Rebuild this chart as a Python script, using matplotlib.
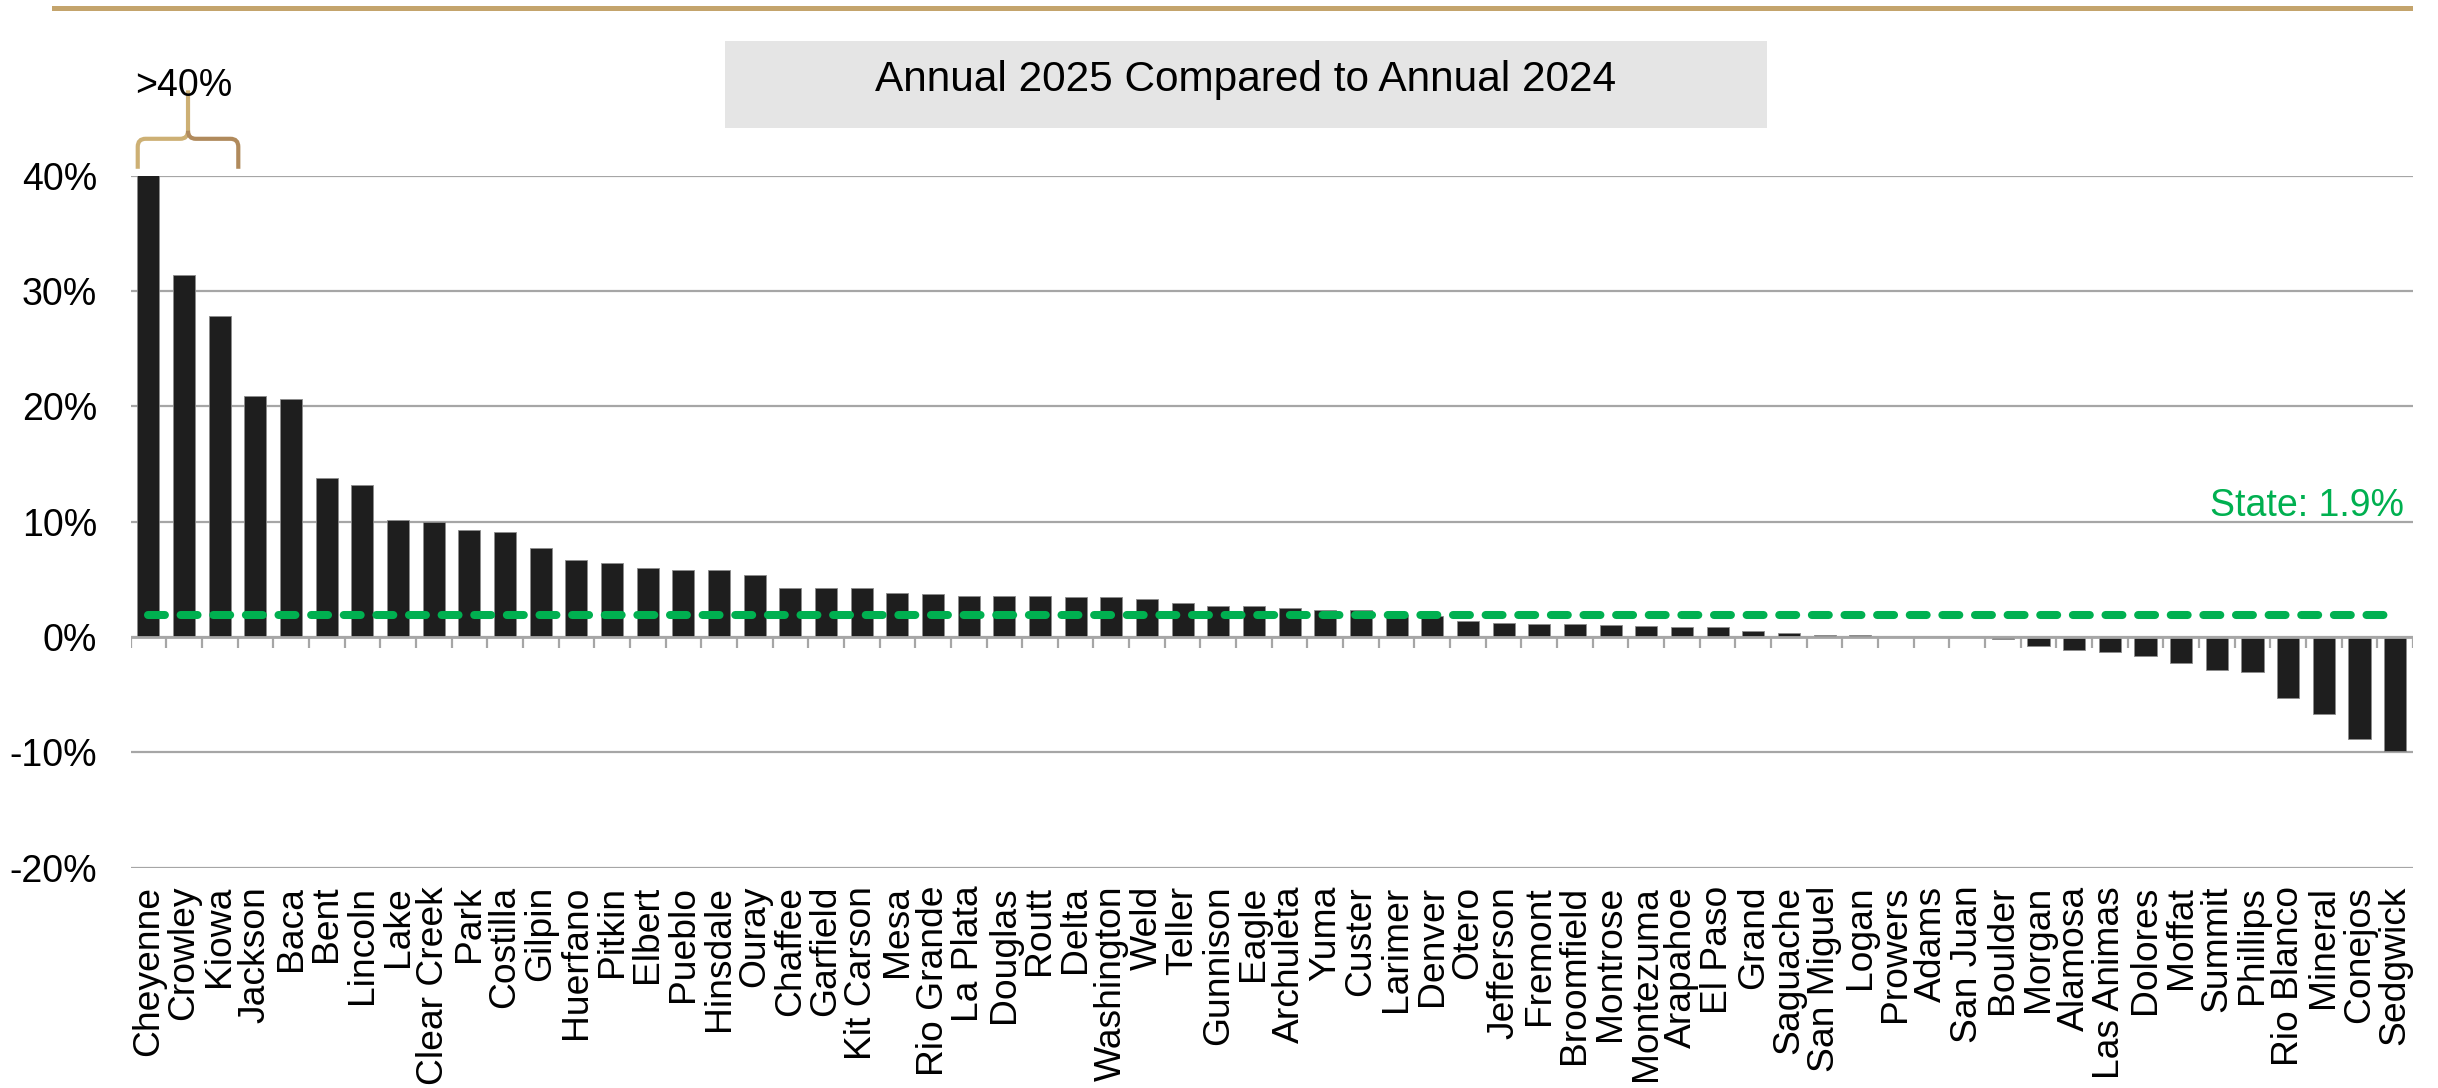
import matplotlib
matplotlib.use("Agg")
import matplotlib.pyplot as plt
from matplotlib.path import Path
from matplotlib.patches import PathPatch, Rectangle
from matplotlib.lines import Line2D
import numpy as np

plt.rcParams['font.family'] = ['Liberation Sans', 'DejaVu Sans']

counties = ["Cheyenne", "Crowley", "Kiowa", "Jackson", "Baca", "Bent", "Lincoln", "Lake",
            "Clear Creek", "Park", "Costilla", "Gilpin", "Huerfano", "Pitkin", "Elbert",
            "Pueblo", "Hinsdale", "Ouray", "Chaffee", "Garfield", "Kit Carson", "Mesa",
            "Rio Grande", "La Plata", "Douglas", "Routt", "Delta", "Washington", "Weld",
            "Teller", "Gunnison", "Eagle", "Archuleta", "Yuma", "Custer", "Larimer",
            "Denver", "Otero", "Jefferson", "Fremont", "Broomfield", "Montrose",
            "Montezuma", "Arapahoe", "El Paso", "Grand", "Saguache", "San Miguel",
            "Logan", "Prowers", "Adams", "San Juan", "Boulder", "Morgan", "Alamosa",
            "Las Animas", "Dolores", "Moffat", "Summit", "Phillips", "Rio Blanco",
            "Mineral", "Conejos", "Sedgwick"]

change_pct = [45.0, 31.4, 27.8, 20.9, 20.6, 13.8, 13.2, 10.15,
              10.0, 9.3, 9.1, 7.7, 6.7, 6.4, 6.0,
              5.85, 5.8, 5.35, 4.28, 4.27, 4.21, 3.78,
              3.72, 3.57, 3.57, 3.57, 3.49, 3.43, 3.31,
              2.97, 2.71, 2.65, 2.48, 2.37, 2.35, 1.9,
              1.8, 1.42, 1.22, 1.17, 1.13, 1.04,
              0.97, 0.84, 0.84, 0.52, 0.38, 0.2,
              0.14, 0.03, 0.01, -0.03, -0.17, -0.75, -1.1,
              -1.3, -1.62, -2.29, -2.9, -3.07, -5.25,
              -6.67, -8.87, -9.88]

state_pct = 1.9
y_ticks = [-20, -10, 0, 10, 20, 30, 40]
title = "Annual 2025 Compared to Annual 2024"

W, H = 2438, 1088
fig = plt.figure(figsize=(W / 100, H / 100), dpi=100)
ax = fig.add_axes([130.6 / W, 1 - 867.7 / H, (2413 - 130.6) / W, (867.7 - 175.7) / H])

x = np.arange(len(counties))
ax.bar(x, change_pct, width=0.62, color='#1e1e1e', edgecolor='#8c8c8c', linewidth=0.6, zorder=3)

ax.set_xlim(-0.5, len(counties) - 0.5)
ax.set_ylim(-20, 40)
ax.set_yticks(y_ticks)
ax.set_yticklabels([f"{t}%" for t in y_ticks])
ax.yaxis.grid(True, color='#a6a6a6', linewidth=1.6, zorder=0)
ax.set_axisbelow(True)
for s in ax.spines.values():
    s.set_visible(False)

ax.tick_params(axis='y', length=0, pad=24, labelsize=27)
ax.set_xticks(x)
ax.set_xticklabels(counties, rotation=90, fontsize=26.8)
ax.tick_params(axis='x', length=0, pad=13)

# zero axis line with boundary tick marks
ax.axhline(0, color='#a6a6a6', linewidth=2.0, zorder=4)
bounds = np.arange(len(counties) + 1) - 0.5
ax.vlines(bounds, -0.98, 0, color='#a6a6a6', linewidth=1.6, zorder=4)

# state average dashed line
ax.plot([x[0], x[-1]], [state_pct, state_pct], color='#00b050', linewidth=5.8,
        dashes=(2.1, 1.95), dash_capstyle='round', zorder=5)
ax.text(len(counties) - 0.75, 10.5, f"State: {state_pct}%", color='#00b050',
        fontsize=27, ha='right', va='baseline', zorder=6)

# bracket above first bars
x0, x1, xm = -0.3, 2.52, 1.11
ylow, yh, ytop = 40.6, 43.2, 47.4
rx, ry = 0.22, 0.7
left = Path([(x0, ylow), (x0, yh - ry), (x0, yh), (x0 + rx, yh), (xm - rx, yh),
             (xm, yh), (xm, yh + ry), (xm, ytop)],
            [Path.MOVETO, Path.LINETO, Path.CURVE3, Path.CURVE3, Path.LINETO,
             Path.CURVE3, Path.CURVE3, Path.LINETO])
right = Path([(x1, ylow), (x1, yh - ry), (x1, yh), (x1 - rx, yh), (xm + rx, yh),
              (xm, yh), (xm, yh + ry)],
             [Path.MOVETO, Path.LINETO, Path.CURVE3, Path.CURVE3, Path.LINETO,
              Path.CURVE3, Path.CURVE3])
ax.add_patch(PathPatch(left, facecolor='none', edgecolor='#cdb074', linewidth=3.0,
                       clip_on=False, zorder=6, capstyle='butt'))
ax.add_patch(PathPatch(right, facecolor='none', edgecolor='#b08a5c', linewidth=3.0,
                       clip_on=False, zorder=6, capstyle='butt'))
ax.text(1.0, 46.9, ">40%", fontsize=27, ha='center', va='baseline', clip_on=False, zorder=7)

# top gold rule
fig.add_artist(Line2D([54 / W, 2410 / W], [1 - 8 / H, 1 - 8 / H], color='#c4a46c',
                      linewidth=3.6, transform=fig.transFigure))

# title box
fig.add_artist(Rectangle((725 / W, 1 - 127.7 / H), (1767 - 725) / W, (127.7 - 41) / H,
                         transform=fig.transFigure, facecolor='#e5e5e5', edgecolor='none'))
fig.text(1246 / W, 1 - 80 / H, title, fontsize=30.5, ha='center', va='center')

fig.savefig("out.png", dpi=100)
